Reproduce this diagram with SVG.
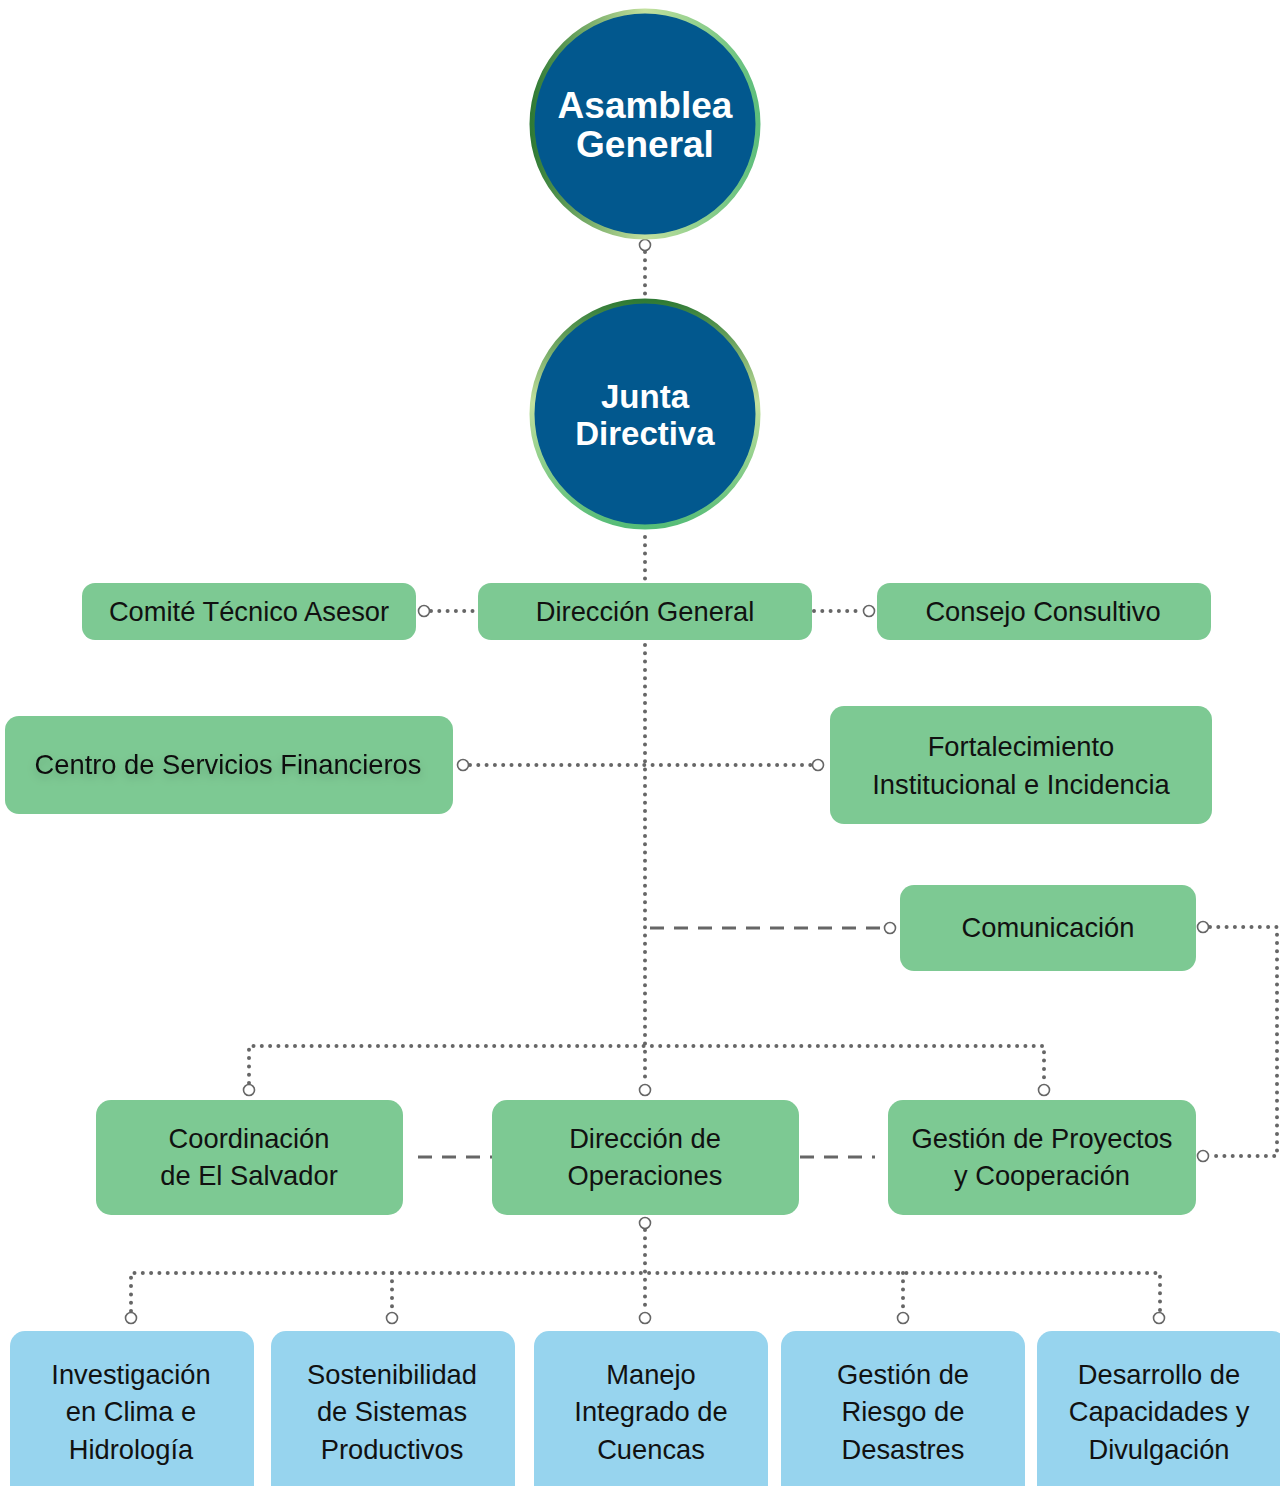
<svg xmlns="http://www.w3.org/2000/svg" width="1280" height="1486" viewBox="0 0 1280 1486">
<style>
.g{fill:#7DC993}
.b{fill:#97D4EE}
.t{font-family:"Liberation Sans",Arial,sans-serif;font-size:27.3px;fill:#111;text-anchor:middle}
.h{font-family:"Liberation Sans",Arial,sans-serif;font-weight:bold;fill:#fff;text-anchor:middle}
.dot{fill:none;stroke:#666;stroke-width:4;stroke-linecap:round;stroke-dasharray:0 8.3}
.dash{fill:none;stroke:#666;stroke-width:3;stroke-dasharray:14 10}
.end{fill:#fff;stroke:#666;stroke-width:1.6}
</style>
<defs>
<linearGradient id="ringA" x1="0" y1="0" x2="1" y2="0">
<stop offset="0" stop-color="#2F7A35"/>
<stop offset="0.5" stop-color="#C3E09E"/>
<stop offset="1" stop-color="#5DBE7C"/>
</linearGradient>
<linearGradient id="ringJ" x1="0" y1="0" x2="0" y2="1">
<stop offset="0" stop-color="#2F7A35"/>
<stop offset="0.45" stop-color="#C3E09E"/>
<stop offset="1" stop-color="#55BC77"/>
</linearGradient>
<filter id="sh" x="-10%" y="-30%" width="120%" height="170%">
<feDropShadow dx="0" dy="4" stdDeviation="4" flood-color="#000" flood-opacity="0.18"/>
</filter>
</defs>

<g id="connectors">
<path class="dot" d="M645 252 V298"/>
<path class="dot" d="M645 537 V580"/>
<path class="dot" d="M431 611 H478"/>
<path class="dot" d="M814 611 H862"/>
<path class="dot" d="M645 645 V1083"/>
<path class="dot" d="M470 765 H811"/>
<path class="dash" d="M650 928 H884"/>
<path class="dot" d="M1210 927 H1277 V1156 H1210"/>
<path class="dot" d="M249 1083 V1046 H1044 V1083"/>
<path class="dash" d="M418 1157 H492"/>
<path class="dash" d="M800 1157 H875"/>
<path class="dot" d="M645 1230 V1311"/>
<path class="dot" d="M131 1311 V1273 H1160 V1311"/>
<path class="dot" d="M392 1273 V1311"/>
<path class="dot" d="M903 1273 V1311"/>
<circle class="end" cx="645" cy="245" r="5.5"/>
<circle class="end" cx="424" cy="611" r="5.5"/>
<circle class="end" cx="869" cy="611" r="5.5"/>
<circle class="end" cx="463" cy="765" r="5.5"/>
<circle class="end" cx="818" cy="765" r="5.5"/>
<circle class="end" cx="890" cy="928" r="5.5"/>
<circle class="end" cx="1203" cy="927" r="5.5"/>
<circle class="end" cx="1203" cy="1156" r="5.5"/>
<circle class="end" cx="249" cy="1090" r="5.5"/>
<circle class="end" cx="645" cy="1090" r="5.5"/>
<circle class="end" cx="1044" cy="1090" r="5.5"/>
<circle class="end" cx="645" cy="1223" r="5.5"/>
<circle class="end" cx="131" cy="1318" r="5.5"/>
<circle class="end" cx="392" cy="1318" r="5.5"/>
<circle class="end" cx="645" cy="1318" r="5.5"/>
<circle class="end" cx="903" cy="1318" r="5.5"/>
<circle class="end" cx="1159" cy="1318" r="5.5"/>
</g>

<g id="asamblea">
<circle cx="645" cy="124" r="113" fill="#02588E" stroke="url(#ringA)" stroke-width="5"/>
<text class="h" x="645" y="118" font-size="37">Asamblea</text>
<text class="h" x="645" y="157" font-size="37">General</text>
</g>

<g id="junta">
<circle cx="645" cy="414" r="113" fill="#02588E" stroke="url(#ringJ)" stroke-width="5"/>
<text class="h" x="645" y="408" font-size="33">Junta</text>
<text class="h" x="645" y="445" font-size="33">Directiva</text>
</g>

<g id="comite">
<rect class="g" x="82" y="583" width="334" height="57" rx="13"/>
<text class="t" x="249" y="621">Comité Técnico Asesor</text>
</g>
<g id="direccion-general">
<rect class="g" x="478" y="583" width="334" height="57" rx="13"/>
<text class="t" x="645" y="621">Dirección General</text>
</g>
<g id="consejo">
<rect class="g" x="877" y="583" width="334" height="57" rx="13"/>
<text class="t" x="1043" y="621">Consejo Consultivo</text>
</g>

<g id="centro">
<rect class="g" x="5" y="716" width="448" height="98" rx="14"/>
<text class="t" x="228" y="774" filter="url(#sh)">Centro de Servicios Financieros</text>
</g>
<g id="fortalecimiento">
<rect class="g" x="830" y="706" width="382" height="118" rx="14"/>
<text class="t" x="1021" y="756">Fortalecimiento</text>
<text class="t" x="1021" y="794">Institucional e Incidencia</text>
</g>

<g id="comunicacion">
<rect class="g" x="900" y="885" width="296" height="86" rx="14"/>
<text class="t" x="1048" y="937">Comunicación</text>
</g>

<g id="coordinacion">
<rect class="g" x="96" y="1100" width="307" height="115" rx="15"/>
<text class="t" x="249" y="1148">Coordinación</text>
<text class="t" x="249" y="1185">de El Salvador</text>
</g>
<g id="operaciones">
<rect class="g" x="492" y="1100" width="307" height="115" rx="15"/>
<text class="t" x="645" y="1148">Dirección de</text>
<text class="t" x="645" y="1185">Operaciones</text>
</g>
<g id="proyectos">
<rect class="g" x="888" y="1100" width="308" height="115" rx="15"/>
<text class="t" x="1042" y="1148">Gestión de Proyectos</text>
<text class="t" x="1042" y="1185">y Cooperación</text>
</g>

<g id="investigacion">
<rect class="b" x="10" y="1331" width="244" height="175" rx="15"/>
<text class="t" x="131" y="1384">Investigación</text>
<text class="t" x="131" y="1421">en Clima e</text>
<text class="t" x="131" y="1459">Hidrología</text>
</g>
<g id="sostenibilidad">
<rect class="b" x="271" y="1331" width="244" height="175" rx="15"/>
<text class="t" x="392" y="1384">Sostenibilidad</text>
<text class="t" x="392" y="1421">de Sistemas</text>
<text class="t" x="392" y="1459">Productivos</text>
</g>
<g id="manejo">
<rect class="b" x="534" y="1331" width="234" height="175" rx="15"/>
<text class="t" x="651" y="1384">Manejo</text>
<text class="t" x="651" y="1421">Integrado de</text>
<text class="t" x="651" y="1459">Cuencas</text>
</g>
<g id="riesgo">
<rect class="b" x="781" y="1331" width="244" height="175" rx="15"/>
<text class="t" x="903" y="1384">Gestión de</text>
<text class="t" x="903" y="1421">Riesgo de</text>
<text class="t" x="903" y="1459">Desastres</text>
</g>
<g id="desarrollo">
<rect class="b" x="1037" y="1331" width="250" height="175" rx="15"/>
<text class="t" x="1159" y="1384">Desarrollo de</text>
<text class="t" x="1159" y="1421">Capacidades y</text>
<text class="t" x="1159" y="1459">Divulgación</text>
</g>
</svg>
